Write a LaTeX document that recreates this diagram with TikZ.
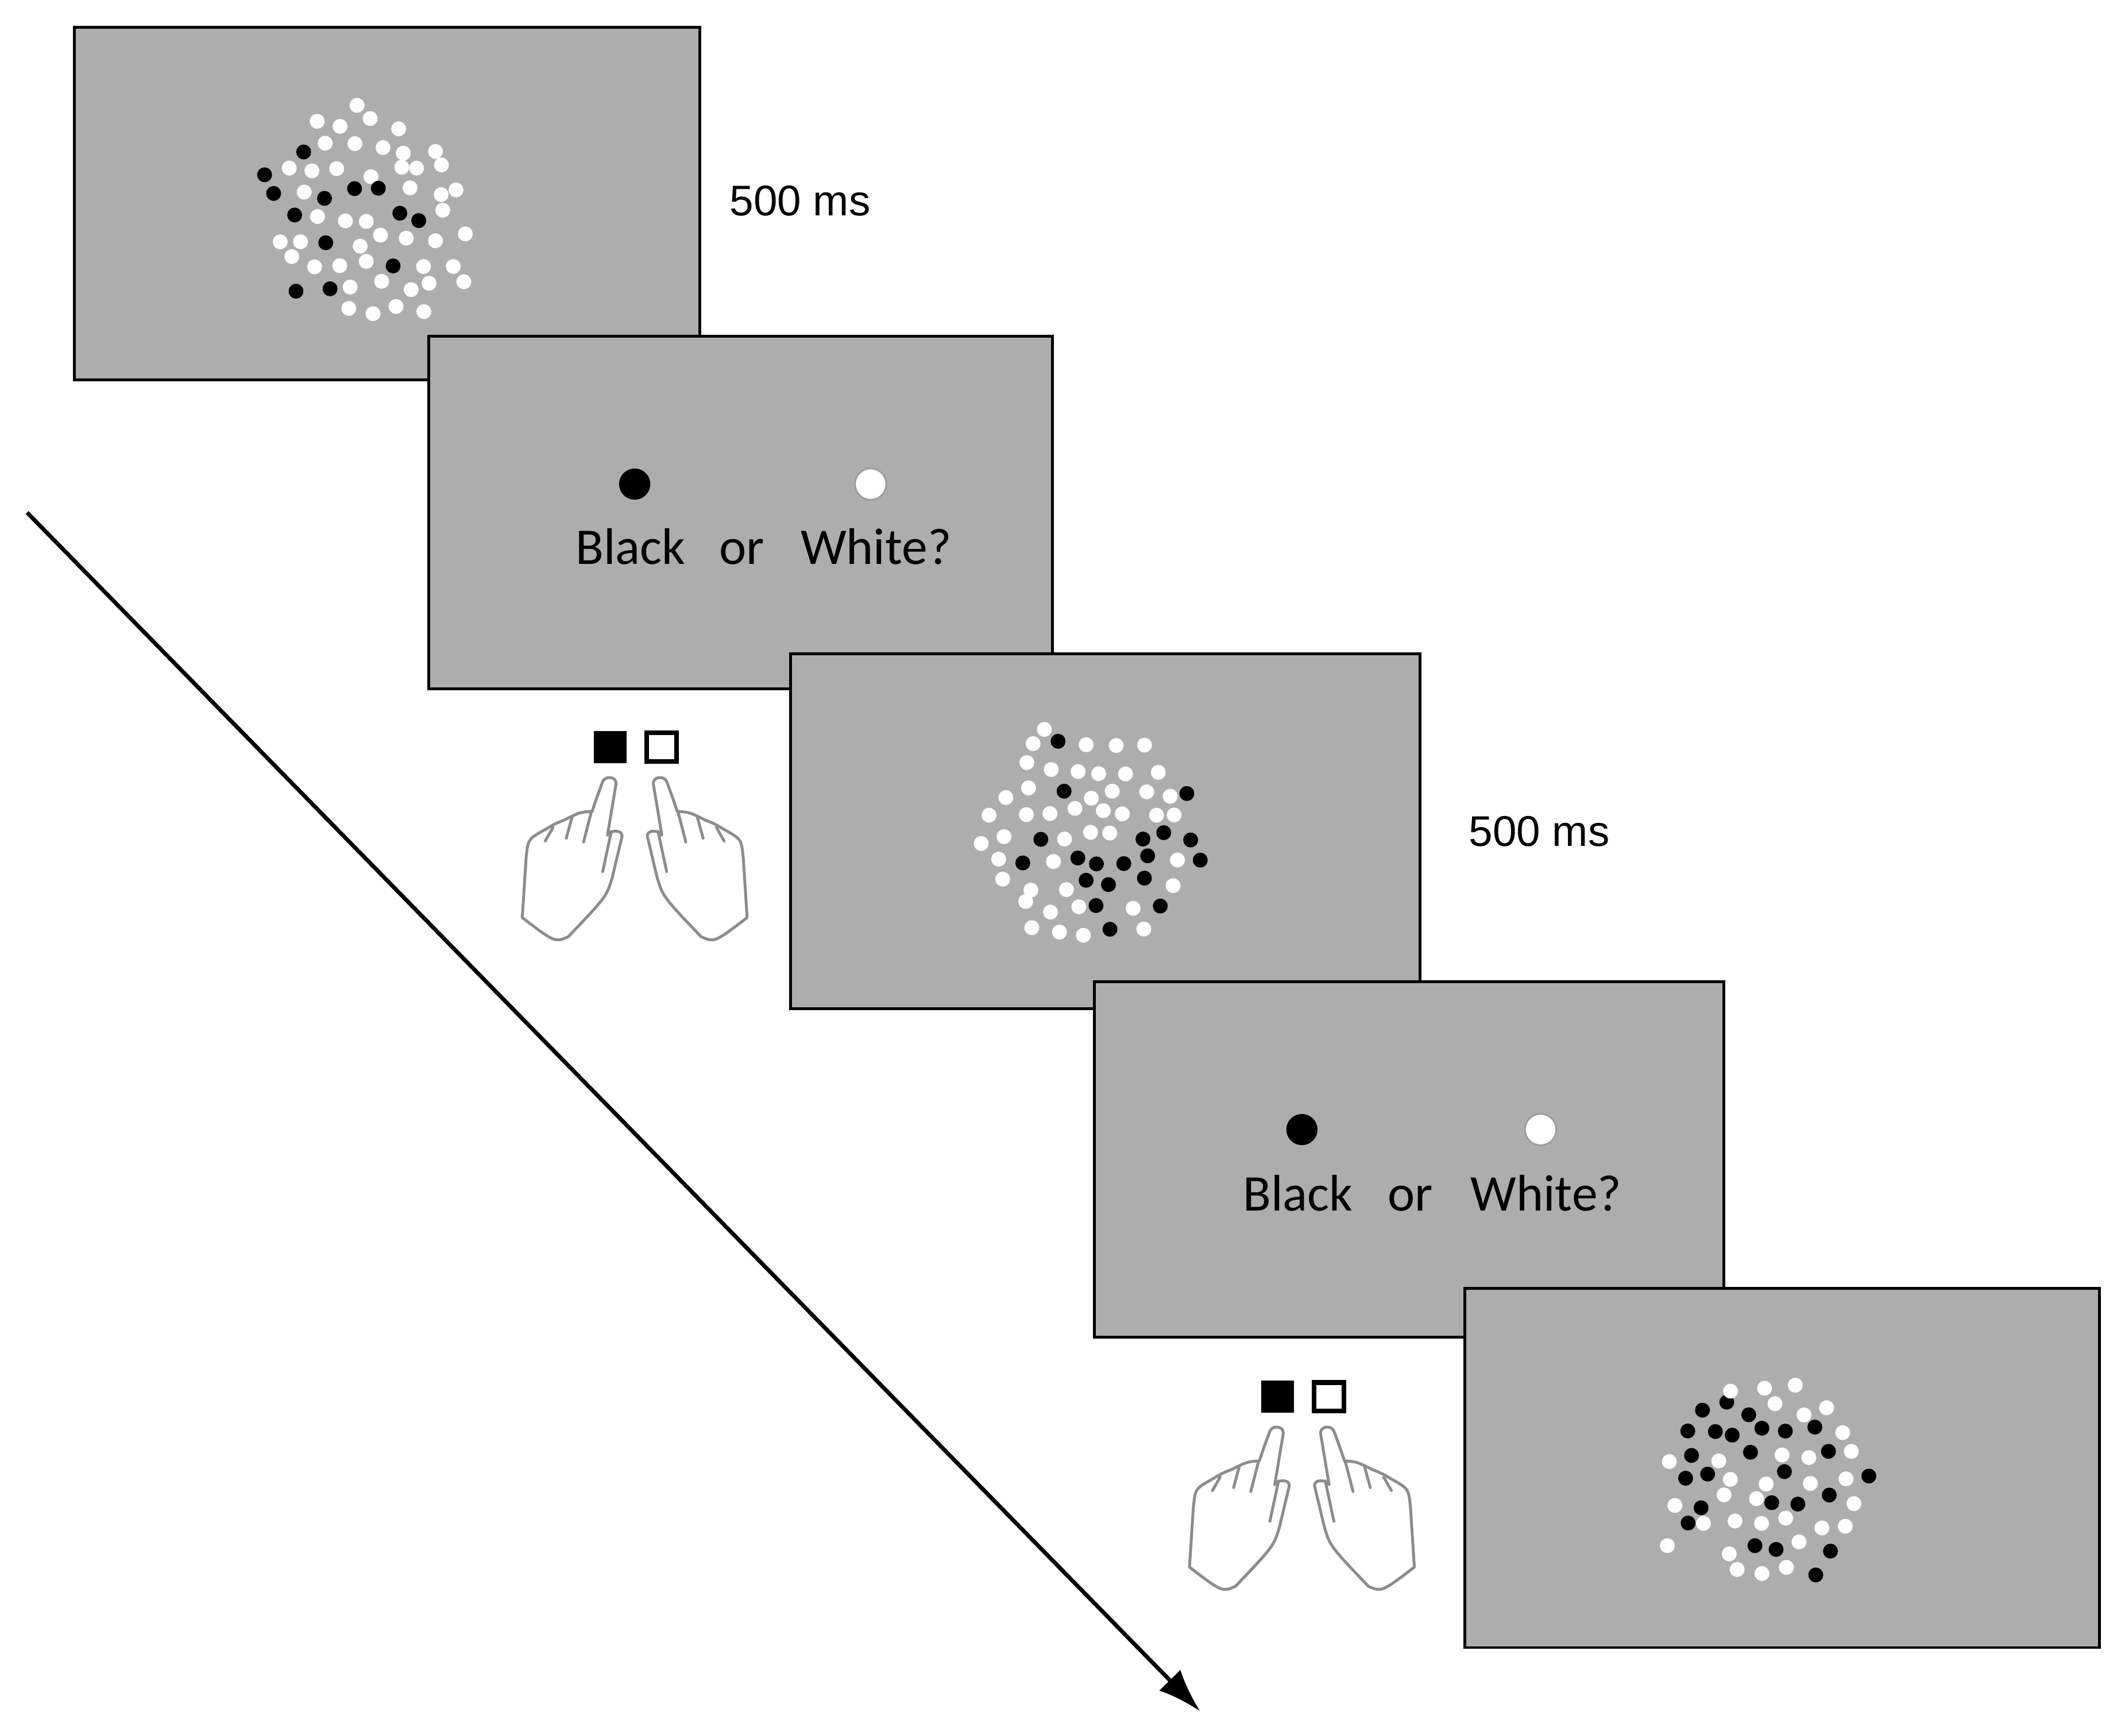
\documentclass[tikz,border=0pt]{standalone}
\usepackage{fontspec}
\usetikzlibrary{arrows.meta}
\setmainfont{Liberation Sans}
\newfontfamily\calfont{Carlito}
\begin{document}
\begin{tikzpicture}[x=0.1mm,y=-0.1mm,
  panel/.style={fill=black!32,draw=black,line width=0.6pt},
  ms/.style={font=\fontsize{9}{10}\selectfont},
  q/.style={font=\calfont\fontsize{10.8}{12}\selectfont,anchor=base,inner sep=0},
  handline/.style={draw=black!45,line width=0.6pt,line cap=round,line join=round}]
\useasboundingbox (0,0) rectangle (1564,1280);
\newcommand\dotcloud[4]{% cx cy seed blackfrac
  \pgfmathsetseed{#3}
  \foreach \i in {-5,...,5}{
   \foreach \j in {-5,...,5}{
    \pgfmathsetmacro\px{19.5*\i+9.75*mod(\j+6,2)+5*(rnd-0.5)*2}
    \pgfmathsetmacro\py{17*\j+5*(rnd-0.5)*2}
    \pgfmathsetmacro\lim{((72+16*rnd)/10)^2}
    \pgfmathsetmacro\dd{(\px/10)^2+(\py/10)^2}
    \pgfmathsetmacro\bb{rnd}
    \ifdim\dd pt<\lim pt
      \ifdim\bb pt<#4pt \def\cc{black}\else\def\cc{white}\fi
      \fill[\cc] ({#1+\px},{#2+\py}) circle (5.5);
    \fi
  }}}
\newcommand\hands[2]{%
  \begin{scope}[shift={(#1,#2)}]
   \fill[black] (-30,-12) rectangle (-6,12);
   \draw[black,line width=1pt] (9,-10.5) rectangle (31,10.5);
   \foreach \s in {1,-1}{
   \begin{scope}[xscale=\s,scale=1/7.08,shift={(-667,-140)}]
    \draw[handline] (445,475) .. controls (470,400) .. (500,320) .. controls (510,290) and (570,290) .. (570,330) -- (525,600)
      .. controls (540,570) and (610,570) .. (600,610) -- (550,820) .. controls (520,920) .. (320,1130) .. controls (250,1160) .. (80,1030)
      -- (100,720) .. controls (110,620) .. (200,570) .. controls (250,540) .. (300,520) .. controls (380,480) .. (445,475);
    \draw[handline] (200,630)--(240,560) (310,615)--(340,505) (400,635)--(440,480) (500,790)--(545,580);
   \end{scope}}
  \end{scope}}
% arrow
\coordinate (as) at (20,378);
\coordinate (ae) at (885,1262);
\draw[line width=0.85pt,-{Latex[length=3.2mm,width=2.2mm]}] (as) -- (ae);
% panel 1
\draw[panel] (55,20) rectangle (516,280);
\dotcloud{272}{160}{11}{0.27}
\node[ms] (t1) at (590,148) {500 ms};
% panel 2
\draw[panel] (316,248) rectangle (776,508);
\fill[black] (468,357) circle (11.5);
\fill[white,draw=black!40,line width=0.3pt] (642,357) circle (11.5);
\node[q] (b1) at (465,416) {Black};
\node[q] (o1) at (547,416) {or};
\node[q] (w1) at (646,416) {White?};
\hands{468}{551}
% panel 3
\draw[panel] (583,482) rectangle (1047,744);
\dotcloud{802}{618}{5}{0.27}
\node[ms] (t2) at (1135,613) {500 ms};
% panel 4
\draw[panel] (807,724) rectangle (1271,986);
\fill[black] (960,833) circle (11.5);
\fill[white,draw=black!40,line width=0.3pt] (1136,833) circle (11.5);
\node[q] (b2) at (957,893) {Black};
\node[q] (o2) at (1040,893) {or};
\node[q] (w2) at (1140,893) {White?};
\hands{960}{1030}
% panel 5
\draw[panel] (1080,950) rectangle (1548,1215);
\dotcloud{1300}{1090}{23}{0.42}
\end{tikzpicture}
\end{document}
